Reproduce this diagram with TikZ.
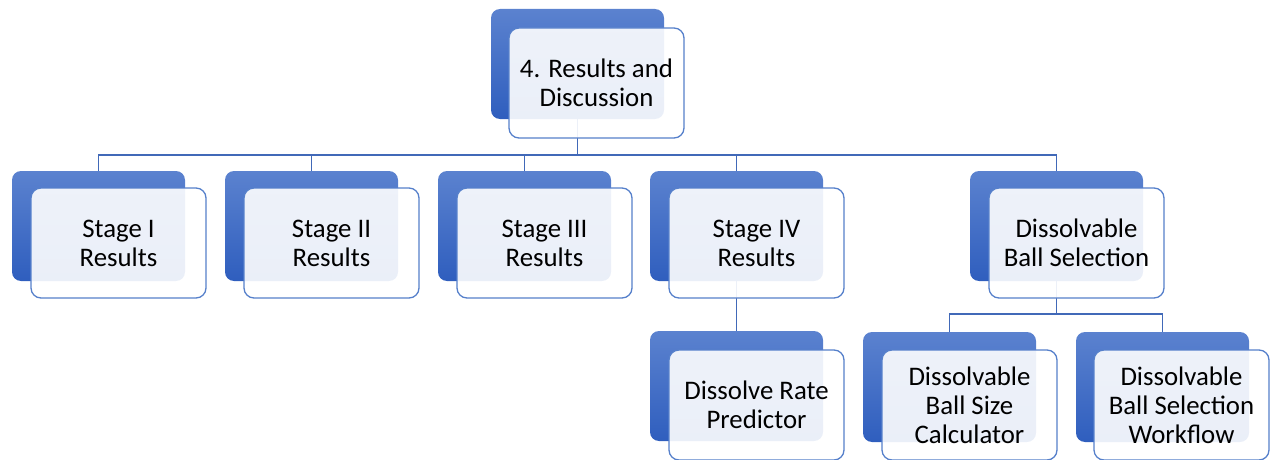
\documentclass[tikz,border=0pt]{standalone}
\usepackage{fontspec}
\setmainfont{Carlito}
\definecolor{backtop}{HTML}{5B82CF}
\definecolor{backbot}{HTML}{2F5EBE}
\definecolor{edge}{HTML}{5680CB}
\definecolor{wire}{HTML}{4169B8}
\begin{document}
\begin{tikzpicture}[x=1pt,y=-1pt,
  back/.style={anchor=north west, minimum width=173pt, minimum height=110pt,
    inner sep=0pt, outer sep=0pt, rounded corners=9pt,
    top color=backtop, bottom color=backbot, draw=none},
  front/.style={anchor=north west, minimum width=175pt, minimum height=110pt,
    inner sep=0pt, outer sep=0pt, rounded corners=10pt,
    fill=white, fill opacity=0.9, text opacity=1, draw=edge, line width=1.3pt,
    align=center, font=\fontsize{26.8}{29}\selectfont},
  conn/.style={draw=wire, line width=1.3pt}]
\useasboundingbox (0,0) rectangle (1270,460);

% shaded rear cards
\node[back] (tb) at (491,9) {};
\node[back] (b1) at (12,171) {};
\node[back] (b2) at (225,171) {};
\node[back] (b3) at (438,171) {};
\node[back] (b4) at (650,171) {};
\node[back] (b5) at (970,171) {};
\node[back] (b6) at (650,331) {};
\node[back] (b7) at (863,332) {};
\node[back] (b8) at (1076,332) {};

% bus lines of the hierarchy
\coordinate (bus1) at (0,155);
\coordinate (bus2) at (0,314);
\draw[conn] (tb.south) -- (tb.south |- bus1);
\draw[conn] (b1.north) -- (b1.north |- bus1) -- (b5.north |- bus1) -- (b5.north);
\draw[conn] (b2.north) -- (b2.north |- bus1);
\draw[conn] (b3.north) -- (b3.north |- bus1);
\draw[conn] (b4.north) -- (b4.north |- bus1);
\draw[conn] (b4.south) -- (b6.north);
\draw[conn] (b5.south) -- (b5.south |- bus2);
\draw[conn] (b7.north) -- (b7.north |- bus2) -- (b8.north |- bus2) -- (b8.north);

% translucent front cards with the labels
\node[front] (t) at (509,28) {4. Results and\\Discussion};
\node[front] (s1) at (31,188) {Stage I\\Results};
\node[front] (s2) at (244,188) {Stage II\\Results};
\node[front] (s3) at (457,188) {Stage III\\Results};
\node[front] (s4) at (669,188) {Stage IV\\Results};
\node[front] (s5) at (989,188) {Dissolvable\\Ball Selection};
\node[front] (s6) at (669,350) {Dissolve Rate\\Predictor};
\node[front] (s7) at (882,350) {Dissolvable\\Ball Size\\Calculator};
\node[front] (s8) at (1094,350) {Dissolvable\\Ball Selection\\Workflow};
\end{tikzpicture}
\end{document}
